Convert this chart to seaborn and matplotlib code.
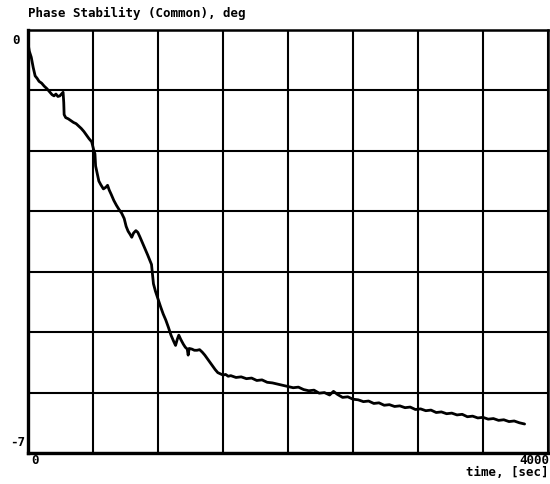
import numpy as np
import pandas as pd
import matplotlib
matplotlib.use("Agg")
import matplotlib.pyplot as plt
import seaborn as sns

# ---- data ----
time_sec = [0, 10, 25, 40, 55, 70, 85, 105, 125, 145, 165, 185, 200, 215, 230, 245, 258, 270,
            275, 278, 290, 310, 330, 350, 370, 390, 410, 430, 450, 470, 490, 505, 515, 520, 530,
            545, 560, 580, 600, 612, 625, 640, 660, 680, 700, 720, 740, 755, 770, 785, 798, 812,
            830, 845, 860, 880, 900, 920, 940, 950, 958, 965, 980, 1000, 1020, 1040, 1060, 1080,
            1100, 1120, 1135, 1148, 1160, 1175, 1195, 1210, 1225, 1232, 1240, 1260, 1280, 1300,
            1320, 1340, 1360, 1380, 1400, 1420, 1440, 1460, 1480, 1500, 1520, 1540,
            1560, 1600, 1640, 1680, 1720, 1760, 1800, 1840, 1880, 1920, 1960, 2000, 2040, 2080,
            2120, 2160, 2200, 2240, 2280, 2320, 2350, 2380, 2420, 2460, 2500, 2540, 2580, 2620,
            2660, 2700, 2740, 2780, 2820, 2860, 2900, 2940, 2980, 3020, 3060, 3100, 3140, 3180,
            3220, 3260, 3300, 3340, 3380, 3420, 3460, 3500, 3540, 3580, 3620, 3660, 3700, 3740,
            3780, 3820]
phase_deg = [-0.22, -0.35, -0.45, -0.62, -0.76, -0.80, -0.85, -0.88, -0.93, -0.97, -1.02, -1.07,
             -1.09, -1.06, -1.10, -1.09, -1.06, -1.03, -1.20, -1.40, -1.45, -1.47, -1.50, -1.53,
             -1.55, -1.59, -1.63, -1.68, -1.74, -1.80, -1.85, -1.98, -2.05, -2.25, -2.35, -2.50,
             -2.56, -2.63, -2.60, -2.57, -2.65, -2.72, -2.82, -2.90, -2.97, -3.03, -3.12, -3.25,
             -3.33, -3.38, -3.43, -3.36, -3.32, -3.35, -3.42, -3.52, -3.62, -3.72, -3.83, -3.88,
             -4.05, -4.20, -4.32, -4.45, -4.58, -4.70, -4.80, -4.92, -5.05, -5.15, -5.22, -5.12,
             -5.05, -5.12, -5.20, -5.25, -5.28, -5.38, -5.27, -5.28, -5.30, -5.30, -5.29, -5.33,
             -5.38, -5.44, -5.50, -5.56, -5.62, -5.67, -5.69, -5.71, -5.70, -5.73,
             -5.72, -5.75, -5.74, -5.77, -5.76, -5.80, -5.79, -5.83, -5.84, -5.86, -5.88, -5.90,
             -5.92, -5.91, -5.95, -5.97, -5.96, -6.01, -6.00, -6.04, -5.98, -6.03, -6.08, -6.07,
             -6.11, -6.12, -6.15, -6.14, -6.18, -6.17, -6.21, -6.20, -6.23, -6.22, -6.25, -6.24,
             -6.28, -6.27, -6.30, -6.29, -6.33, -6.32, -6.35, -6.34, -6.37, -6.36, -6.40, -6.39,
             -6.42, -6.41, -6.44, -6.43, -6.46, -6.45, -6.48, -6.47, -6.50, -6.52]

title = "Phase Stability (Common), deg"
x_label = "time, [sec]"
x_tick_labels = ["0", "4000"]
y_tick_labels = ["0", "-7"]
x_range = [0, 4000]
y_range = [-7, 0]

df = pd.DataFrame({"time": time_sec, "phase": phase_deg})

sns.set_style("white")
plt.rcParams["font.family"] = ["DejaVu Sans Mono", "DejaVu Sans"]

W, H = 550, 484
fig = plt.figure(figsize=(W / 100, H / 100), dpi=100)
ax = fig.add_axes([28 / W, 1 - 453 / H, 520 / W, 423 / H])

sns.lineplot(data=df, x="time", y="phase", sort=False, estimator=None,
             color="black", linewidth=2.0, ax=ax)

ax.set_xlim(*x_range)
ax.set_ylim(*y_range)
ax.set_xticks(np.linspace(x_range[0], x_range[1], 9))
ax.set_yticks(np.linspace(y_range[0], y_range[1], 8))
ax.grid(True, color="black", linewidth=1.5)
ax.tick_params(length=0, labelbottom=False, labelleft=False)
ax.set_xlabel("")
ax.set_ylabel("")
for side, lw in [("left", 2.4), ("bottom", 2.4), ("top", 1.8), ("right", 1.8)]:
    ax.spines[side].set_visible(True)
    ax.spines[side].set_color("black")
    ax.spines[side].set_linewidth(lw)

fkw = dict(fontsize=9, fontweight="bold", color="black")
def px(x, y):
    return x / W, 1 - y / H

fig.text(*px(28, 13), title, ha="left", va="center", **fkw)
fig.text(*px(20, 41), y_tick_labels[0], ha="right", va="center", **fkw)
fig.text(*px(25, 443), y_tick_labels[1], ha="right", va="center", **fkw)
fig.text(*px(35, 460), x_tick_labels[0], ha="center", va="center", **fkw)
fig.text(*px(549, 460), x_tick_labels[1], ha="right", va="center", **fkw)
fig.text(*px(549, 472), x_label, ha="right", va="center", **fkw)

fig.savefig("out.png", dpi=100, facecolor="white")
